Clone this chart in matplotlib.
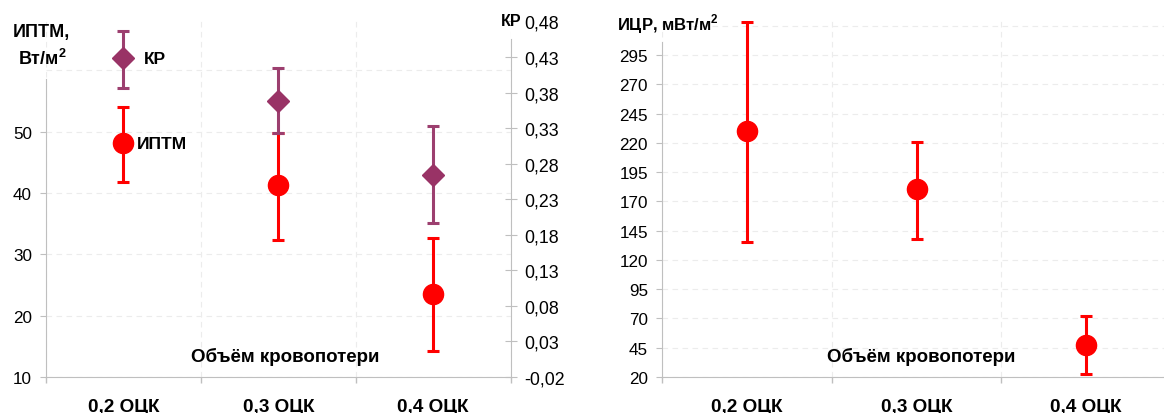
import matplotlib
matplotlib.use("Agg")
import matplotlib.pyplot as plt
from matplotlib.ticker import FuncFormatter

plt.rcParams["font.family"] = ["Liberation Sans", "DejaVu Sans"]
plt.rcParams["mathtext.fontset"] = "custom"
plt.rcParams["mathtext.rm"] = "Liberation Sans"
plt.rcParams["mathtext.bf"] = "Liberation Sans:bold"

# --- data ---
categories = ["0,2 ОЦК", "0,3 ОЦК", "0,4 ОЦК"]

iptm = [48.1, 41.3, 23.6]          # ИПТМ, Вт/м2 (left axis)
iptm_low = [41.8, 32.3, 14.2]
iptm_high = [54.0, 49.7, 32.7]

kr = [0.428, 0.368, 0.264]         # КР (right axis)
kr_low = [0.386, 0.323, 0.196]
kr_high = [0.466, 0.414, 0.333]

icr = [230.0, 180.3, 47.6]         # ИЦР, мВт/м2
icr_low = [135.6, 138.0, 22.3]
icr_high = [323.2, 221.0, 72.4]

left_ticks = [10, 20, 30, 40, 50]
kr_ticks = [-0.02, 0.03, 0.08, 0.13, 0.18, 0.23, 0.28, 0.33, 0.38, 0.43, 0.48]
icr_ticks = [20, 45, 70, 95, 120, 145, 170, 195, 220, 245, 270, 295]

RED = "#ff0000"
PLUM = "#993366"
PLUM_BAR = "#9c3f6f"
SPINE = "#bfbfbf"
GRID = "#ececec"
DASH = (0, (5, 4))

W, H = 1164, 414
fig = plt.figure(figsize=(W / 100, H / 100), dpi=100)


def px_box(x0, y0, x1, y1):
    # pixel box (top-left origin) -> figure fraction rect
    return [x0 / W, 1 - y1 / H, (x1 - x0) / W, (y1 - y0) / H]


def comma(v, pos=None):
    return ("%.2f" % v).replace(".", ",")


def style_cat_axis(ax):
    x = range(len(categories))
    ax.set_xlim(-0.5, len(categories) - 0.5)
    ax.set_xticks(list(x))
    ax.set_xticklabels(categories, fontsize=13.6, fontweight="bold")
    ax.tick_params(axis="x", which="major", length=0, pad=15)
    ax.set_xticks([i - 0.5 for i in range(len(categories) + 1)], minor=True)
    ax.tick_params(axis="x", which="minor", length=4, color=SPINE, width=1)
    ax.grid(axis="x", which="minor", color=GRID, linestyle=DASH, linewidth=0.8)
    ax.spines["bottom"].set_color(SPINE)
    ax.spines["top"].set_visible(False)
    ax.spines["right"].set_visible(False)
    ax.spines["left"].set_color(SPINE)
    ax.set_axisbelow(True)


def draw_err(ax, vals, low, high, color, bar_color, marker, ms):
    x = range(len(vals))
    yerr = [[v - l for v, l in zip(vals, low)], [h - v for v, h in zip(vals, high)]]
    ax.errorbar(x, vals, yerr=yerr, fmt="none", ecolor=bar_color, elinewidth=2.2,
                capsize=4.5, capthick=2.2, zorder=3)
    ax.plot(x, vals, linestyle="none", marker=marker, color=color, markersize=ms, zorder=4)


# ---------------- left chart ----------------
ax1 = fig.add_axes(px_box(46, 22.4, 510.7, 378))
style_cat_axis(ax1)
ax1.set_ylim(10, 67.94)
ax1.set_yticks(left_ticks)
ax1.tick_params(axis="y", labelsize=12.3, length=4, color=SPINE, pad=6)
ax1.grid(axis="y", color=GRID, linestyle=DASH, linewidth=0.8)
ax1.axhline(60, color=GRID, linestyle=DASH, linewidth=0.8, zorder=0)
ax1.spines["left"].set_bounds(10, 58.5)

ax2 = ax1.twinx()
ax2.set_ylim(-0.02, 0.48)
ax2.set_yticks(kr_ticks)
ax2.yaxis.set_major_formatter(FuncFormatter(comma))
ax2.tick_params(axis="y", labelsize=12.8, length=8, direction="inout", color=SPINE, pad=6)
for s in ["top", "left", "bottom"]:
    ax2.spines[s].set_visible(False)
ax2.spines["right"].set_color(SPINE)
ax2.spines["right"].set_bounds(-0.02, 0.455)

draw_err(ax1, iptm, iptm_low, iptm_high, RED, RED, "o", 14.5)
draw_err(ax2, kr, kr_low, kr_high, PLUM, PLUM_BAR, "D", 11.5)

ax2.annotate("КР", xy=(0, kr[0]), xytext=(15, 0), textcoords="offset points",
             va="center", ha="left", fontsize=12.5, fontweight="bold")
ax1.annotate("ИПТМ", xy=(0, iptm[0]), xytext=(10, 0), textcoords="offset points",
             va="center", ha="left", fontsize=12.5, fontweight="bold")
ax1.text(0.515, 0.058, "Объём кровопотери", transform=ax1.transAxes,
         ha="center", va="center", fontsize=13.5, fontweight="bold")

fig.text(41 / W, 1 - 33 / H, "ИПТМ,", ha="center", va="center",
         fontsize=13, fontweight="bold")
fig.text(42 / W, 1 - 59 / H, r"Вт/м$^\mathbf{2}$", ha="center", va="center",
         fontsize=13, fontweight="bold")
fig.text(522 / W, 1 - 21 / H, "КР", ha="right", va="center",
         fontsize=11.5, fontweight="bold")

# ---------------- right chart ----------------
ax3 = fig.add_axes(px_box(662, 22.4, 1171, 378))
style_cat_axis(ax3)
ax3.set_ylim(20, 323.7)
ax3.set_yticks(icr_ticks)
ax3.tick_params(axis="y", labelsize=12.3, length=4, color=SPINE, pad=6)
ax3.grid(axis="y", color=GRID, linestyle=DASH, linewidth=0.8)
ax3.axhline(320, color=GRID, linestyle=DASH, linewidth=0.8, zorder=0)
ax3.spines["left"].set_bounds(20, 306)

draw_err(ax3, icr, icr_low, icr_high, RED, RED, "o", 14.5)

ax3.text(0.51, 0.058, "Объём кровопотери", transform=ax3.transAxes,
         ha="center", va="center", fontsize=13.5, fontweight="bold")
fig.text(617 / W, 1 - 24 / H, r"ИЦР, мВт/м$^\mathbf{2}$", ha="left", va="center",
         fontsize=12, fontweight="bold")

fig.savefig("out.png", dpi=100)
